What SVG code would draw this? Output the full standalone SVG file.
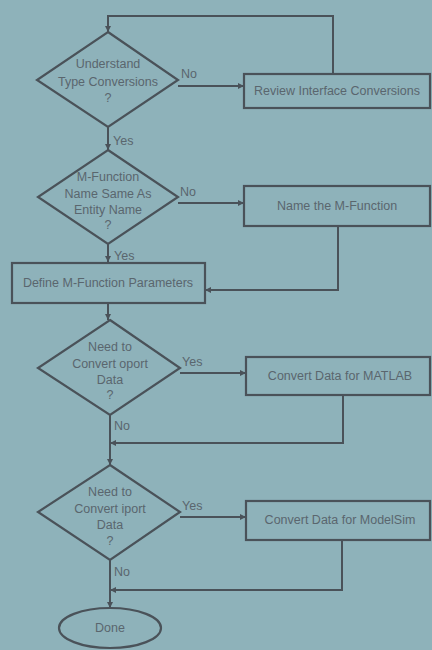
<svg xmlns="http://www.w3.org/2000/svg" width="432" height="650" viewBox="0 0 432 650">
<style>
.s{fill:none;stroke:#4a5259;stroke-width:2.2}
.c{fill:none;stroke:#4a5259;stroke-width:2}
text{font-family:"Liberation Sans","DejaVu Sans",sans-serif;font-size:12.5px;fill:#5a666e;text-anchor:middle}
.l{text-anchor:start}
</style>
<defs>
<marker id="a" viewBox="0 0 10 10" refX="10" refY="5" markerWidth="6" markerHeight="6" orient="auto" markerUnits="userSpaceOnUse">
<path d="M0,0 L10,5 L0,10 z" fill="#4a5259"/>
</marker>
</defs>
<rect width="432" height="650" fill="#8eb2ba"/>
<g id="connectors">
<path class="c" d="M333,74 V16 H108 V32" marker-end="url(#a)"/>
<path class="c" d="M178,86 H244" marker-end="url(#a)"/>
<path class="c" d="M108,127 V150" marker-end="url(#a)"/>
<path class="c" d="M178,203 H244" marker-end="url(#a)"/>
<path class="c" d="M108,244 V262" marker-end="url(#a)"/>
<path class="c" d="M338,226 V290 H205" marker-end="url(#a)"/>
<path class="c" d="M108,303 V320" marker-end="url(#a)"/>
<path class="c" d="M180,373 H246" marker-end="url(#a)"/>
<path class="c" d="M110,415 V465" marker-end="url(#a)"/>
<path class="c" d="M343,395 V443 H110" marker-end="url(#a)"/>
<path class="c" d="M180,517 H246" marker-end="url(#a)"/>
<path class="c" d="M110,560 V608" marker-end="url(#a)"/>
<path class="c" d="M342,540 V590 H110" marker-end="url(#a)"/>
<text class="l" x="181" y="78">No</text>
<text class="l" x="113" y="145">Yes</text>
<text class="l" x="180" y="196">No</text>
<text class="l" x="114" y="260">Yes</text>
<text class="l" x="182" y="366">Yes</text>
<text class="l" x="114" y="430">No</text>
<text class="l" x="182" y="510">Yes</text>
<text class="l" x="114" y="576">No</text>
</g>
<g id="d1">
<path class="s" d="M108,32 L178,80 L108,127 L37,80 Z"/>
<text x="108" y="68">Understand</text>
<text x="108" y="86">Type Conversions</text>
<text x="108" y="102">?</text>
</g>
<g id="review">
<rect class="s" x="244" y="74" width="186" height="34"/>
<text x="337" y="95">Review Interface Conversions</text>
</g>
<g id="d2">
<path class="s" d="M108,150 L178,197 L108,244 L38,197 Z"/>
<text x="108" y="181">M-Function</text>
<text x="108" y="198">Name Same As</text>
<text x="108" y="214">Entity Name</text>
<text x="108" y="229">?</text>
</g>
<g id="name">
<rect class="s" x="244" y="186" width="186" height="40"/>
<text x="337" y="210">Name the M-Function</text>
</g>
<g id="define">
<rect class="s" x="12" y="263" width="193" height="40"/>
<text x="108" y="287">Define M-Function Parameters</text>
</g>
<g id="d3">
<path class="s" d="M110,320 L180,368 L110,415 L38,368 Z"/>
<text x="110" y="351">Need to</text>
<text x="110" y="368">Convert oport</text>
<text x="110" y="384">Data</text>
<text x="110" y="399">?</text>
</g>
<g id="matlab">
<rect class="s" x="246" y="357" width="184" height="38"/>
<text x="340" y="380">Convert Data for MATLAB</text>
</g>
<g id="d4">
<path class="s" d="M110,465 L180,512 L110,560 L38,512 Z"/>
<text x="110" y="496">Need to</text>
<text x="110" y="513">Convert iport</text>
<text x="110" y="529">Data</text>
<text x="110" y="545">?</text>
</g>
<g id="modelsim">
<rect class="s" x="246" y="501" width="184" height="39"/>
<text x="340" y="524">Convert Data for ModelSim</text>
</g>
<g id="done">
<ellipse class="s" cx="110" cy="628" rx="51" ry="20"/>
<text x="110" y="632">Done</text>
</g>
</svg>
